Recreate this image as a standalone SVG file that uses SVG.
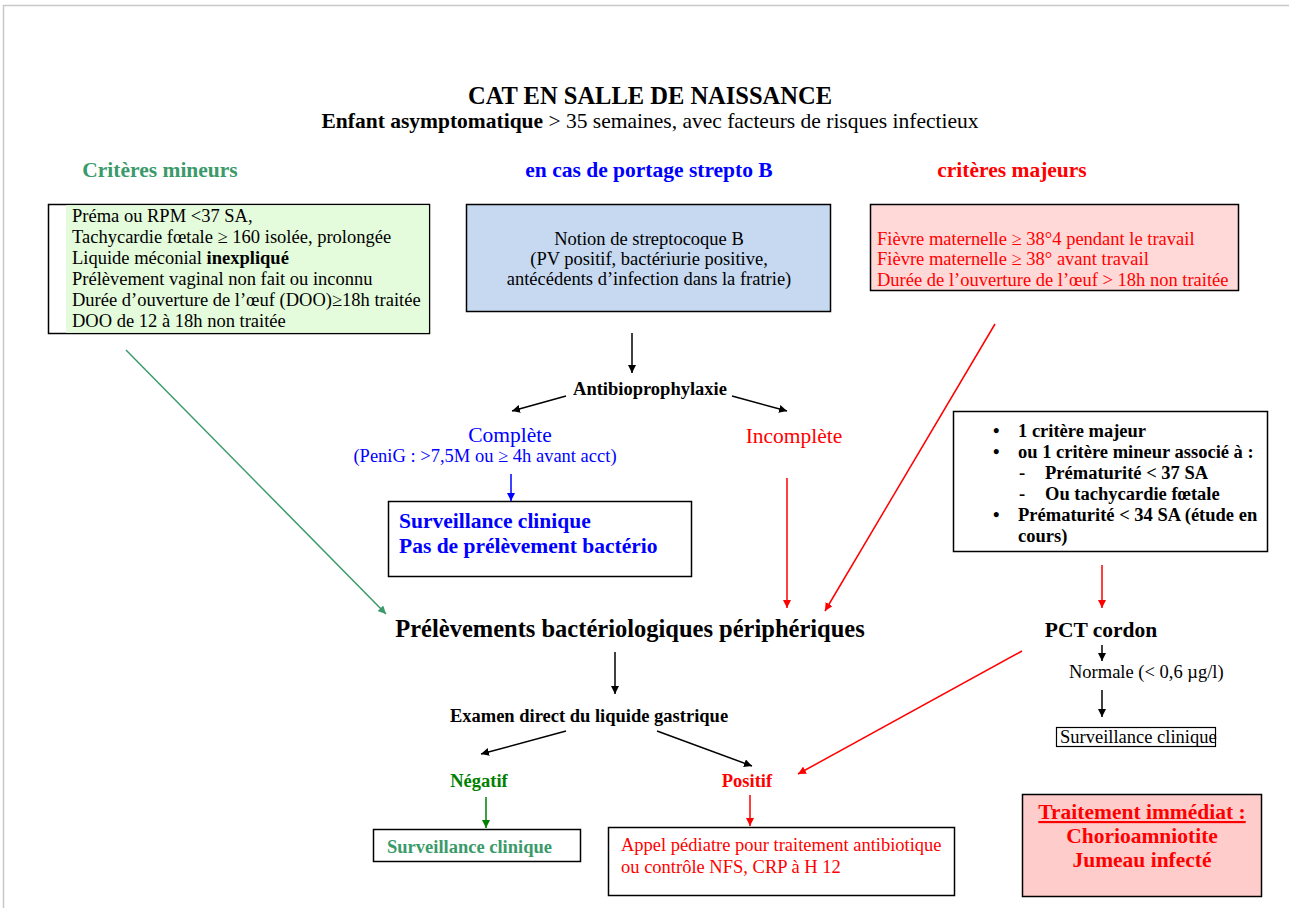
<svg xmlns="http://www.w3.org/2000/svg" width="1289" height="908" viewBox="0 0 1289 908">
<style>
text{font-family:"Liberation Serif","Times New Roman",serif}
.b{font-weight:bold}
.box{stroke:#000;stroke-width:1.5}
.ln{stroke-width:1.5;fill:none}
.k{stroke:#000}.r{stroke:#ff0000}.bl{stroke:#0000ff}.g{stroke:#008000}.sg{stroke:#3a9a6a}
.red{fill:#ff0000}.blue{fill:#0000ff}.grn{fill:#008000}.sgt{fill:#3a9a6a}
.s{font-size:18.5px}.m{font-size:21.5px}.l{font-size:24.5px}
</style>
<defs>
<marker id="ak" viewBox="0 0 10 10" refX="10" refY="5" markerWidth="8" markerHeight="8" markerUnits="userSpaceOnUse" orient="auto"><path d="M0,0L10,5L0,10z" fill="#000"/></marker>
<marker id="ar" viewBox="0 0 10 10" refX="10" refY="5" markerWidth="8" markerHeight="8" markerUnits="userSpaceOnUse" orient="auto"><path d="M0,0L10,5L0,10z" fill="#ff0000"/></marker>
<marker id="ab" viewBox="0 0 10 10" refX="10" refY="5" markerWidth="8" markerHeight="8" markerUnits="userSpaceOnUse" orient="auto"><path d="M0,0L10,5L0,10z" fill="#0000ff"/></marker>
<marker id="ag" viewBox="0 0 10 10" refX="10" refY="5" markerWidth="8" markerHeight="8" markerUnits="userSpaceOnUse" orient="auto"><path d="M0,0L10,5L0,10z" fill="#008000"/></marker>
<marker id="asg" viewBox="0 0 10 10" refX="10" refY="5" markerWidth="8" markerHeight="8" markerUnits="userSpaceOnUse" orient="auto"><path d="M0,0L10,5L0,10z" fill="#3a9a6a"/></marker>
</defs>
<rect width="1289" height="908" fill="#fff"/>
<path d="M3.5,908V5.5H1289" stroke="#c8c8c8" stroke-width="1.5" fill="none"/>

<g id="title">
<text x="650" y="104" text-anchor="middle" class="b l">CAT EN SALLE DE NAISSANCE</text>
<text x="650" y="128" text-anchor="middle" class="m"><tspan class="b">Enfant asymptomatique</tspan> &gt; 35 semaines, avec facteurs de risques infectieux</text>
</g>

<g id="headers">
<text x="160" y="177" text-anchor="middle" class="b sgt m">Critères mineurs</text>
<text x="649" y="177" text-anchor="middle" class="b blue m">en cas de portage strepto B</text>
<text x="1012" y="177" text-anchor="middle" class="b red m">critères majeurs</text>
</g>

<g id="criteres-mineurs">
<rect x="48.5" y="204.5" width="381" height="129" fill="#fff" class="box"/>
<rect x="66" y="205.2" width="362.8" height="127.6" fill="#e4fbdc"/>
<g class="s">
<text x="72" y="222">Préma ou RPM &lt;37 SA,</text>
<text x="72" y="243">Tachycardie fœtale ≥ 160 isolée, prolongée</text>
<text x="72" y="264">Liquide méconial <tspan class="b">inexpliqué</tspan></text>
<text x="72" y="285">Prélèvement vaginal non fait ou inconnu</text>
<text x="72" y="306">Durée d’ouverture de l’œuf (DOO)≥18h traitée</text>
<text x="72" y="327">DOO de 12 à 18h non traitée</text>
</g>
</g>

<g id="strepto">
<rect x="466.5" y="204.5" width="364" height="107" fill="#c6d9f1" class="box"/>
<g class="s" text-anchor="middle">
<text x="649" y="245">Notion de streptocoque B</text>
<text x="649" y="265">(PV positif, bactériurie positive,</text>
<text x="649" y="285">antécédents d’infection dans la fratrie)</text>
</g>
</g>

<g id="criteres-majeurs">
<rect x="870.5" y="204.5" width="368" height="86" fill="#ffd8d8" class="box"/>
<g class="s red">
<text x="877" y="245">Fièvre maternelle ≥ 38°4 pendant le travail</text>
<text x="877" y="265">Fièvre maternelle ≥ 38° avant travail</text>
<text x="877" y="286">Durée de l’ouverture de l’œuf &gt; 18h non traitée</text>
</g>
</g>

<g id="antibio"><text x="650" y="395" text-anchor="middle" class="b s">Antibioprophylaxie</text></g>
<g id="complete">
<text x="510" y="442" text-anchor="middle" class="blue m">Complète</text>
<text x="485" y="462" text-anchor="middle" class="blue s">(PeniG :  &gt;7,5M ou ≥ 4h avant acct)</text>
</g>
<g id="incomplete"><text x="794" y="443" text-anchor="middle" class="red m">Incomplète</text></g>

<g id="surv-strepto">
<rect x="388.5" y="501.5" width="303" height="75" fill="#fff" class="box"/>
<g class="b blue m">
<text x="399" y="528">Surveillance clinique</text>
<text x="399" y="553">Pas de prélèvement bactério</text>
</g>
</g>

<g id="criteres-box">
<rect x="953.5" y="411.5" width="314" height="140" fill="#fff" class="box"/>
<g class="b s">
<text x="993" y="437">•</text><text x="1018" y="437">1 critère majeur</text>
<text x="993" y="458">•</text><text x="1018" y="458">ou 1 critère mineur associé à :</text>
<text x="1019" y="479">-</text><text x="1045" y="479">Prématurité &lt; 37 SA</text>
<text x="1019" y="500">-</text><text x="1045" y="500">Ou tachycardie fœtale</text>
<text x="993" y="521">•</text><text x="1018" y="521">Prématurité &lt; 34 SA (étude en</text>
<text x="1018" y="542">cours)</text>
</g>
</g>

<g id="prelevements"><text x="630" y="637" text-anchor="middle" class="b l">Prélèvements bactériologiques périphériques</text></g>
<g id="pct"><text x="1101" y="637" text-anchor="middle" class="b m">PCT cordon</text></g>
<g id="normale"><text x="1069" y="678" class="s">Normale (&lt; 0,6 µg/l)</text></g>
<g id="surv-pct">
<rect x="1056.5" y="727.5" width="159" height="19" fill="#fff" stroke="#000" stroke-width="1.2"/>
<text x="1060" y="743" class="s">Surveillance clinique</text>
</g>

<g id="examen"><text x="589" y="722" text-anchor="middle" class="b s">Examen direct du liquide gastrique</text></g>
<g id="negatif"><text x="479" y="787" text-anchor="middle" class="b grn s">Négatif</text></g>
<g id="positif"><text x="747" y="787" text-anchor="middle" class="b red s">Positif</text></g>

<g id="surv-neg">
<rect x="373.5" y="829.5" width="207" height="32" fill="#fff" class="box"/>
<text x="387" y="853" class="b sgt s">Surveillance clinique</text>
</g>
<g id="appel">
<rect x="608.5" y="827.5" width="346" height="68" fill="#fff" class="box"/>
<g class="red s">
<text x="621" y="851">Appel pédiatre pour traitement antibiotique</text>
<text x="621" y="873">ou contrôle NFS, CRP à H 12</text>
</g>
</g>

<g id="traitement">
<rect x="1022.5" y="794.5" width="239" height="102" fill="#ffcccc" class="box"/>
<g class="b red m" text-anchor="middle">
<text x="1142" y="819" text-decoration="underline">Traitement immédiat :</text>
<text x="1142" y="843">Chorioamniotite</text>
<text x="1142" y="867">Jumeau infecté</text>
</g>
</g>

<g id="connectors">
<line class="ln k" x1="632" y1="333" x2="632" y2="373" marker-end="url(#ak)"/>
<line class="ln k" x1="566" y1="396" x2="512" y2="411" marker-end="url(#ak)"/>
<line class="ln k" x1="732" y1="396" x2="787" y2="411" marker-end="url(#ak)"/>
<line class="ln bl" x1="511" y1="474" x2="511" y2="501" marker-end="url(#ab)"/>
<line class="ln r" x1="787" y1="478" x2="787" y2="608" marker-end="url(#ar)"/>
<line class="ln r" x1="995" y1="324" x2="825" y2="611" marker-end="url(#ar)"/>
<line class="ln sg" x1="126" y1="350" x2="386" y2="614" marker-end="url(#asg)"/>
<line class="ln k" x1="615" y1="652" x2="615" y2="694" marker-end="url(#ak)"/>
<line class="ln k" x1="566" y1="731" x2="481" y2="754" marker-end="url(#ak)"/>
<line class="ln k" x1="657" y1="731" x2="752" y2="766" marker-end="url(#ak)"/>
<line class="ln r" x1="1022" y1="651" x2="798" y2="774" marker-end="url(#ar)"/>
<line class="ln g" x1="486" y1="797" x2="486" y2="828" marker-end="url(#ag)"/>
<line class="ln r" x1="750" y1="795" x2="750" y2="826" marker-end="url(#ar)"/>
<line class="ln r" x1="1102" y1="565" x2="1102" y2="608" marker-end="url(#ar)"/>
<line class="ln k" x1="1102" y1="645" x2="1102" y2="661" marker-end="url(#ak)"/>
<line class="ln k" x1="1102" y1="690" x2="1102" y2="717" marker-end="url(#ak)"/>
</g>
</svg>
